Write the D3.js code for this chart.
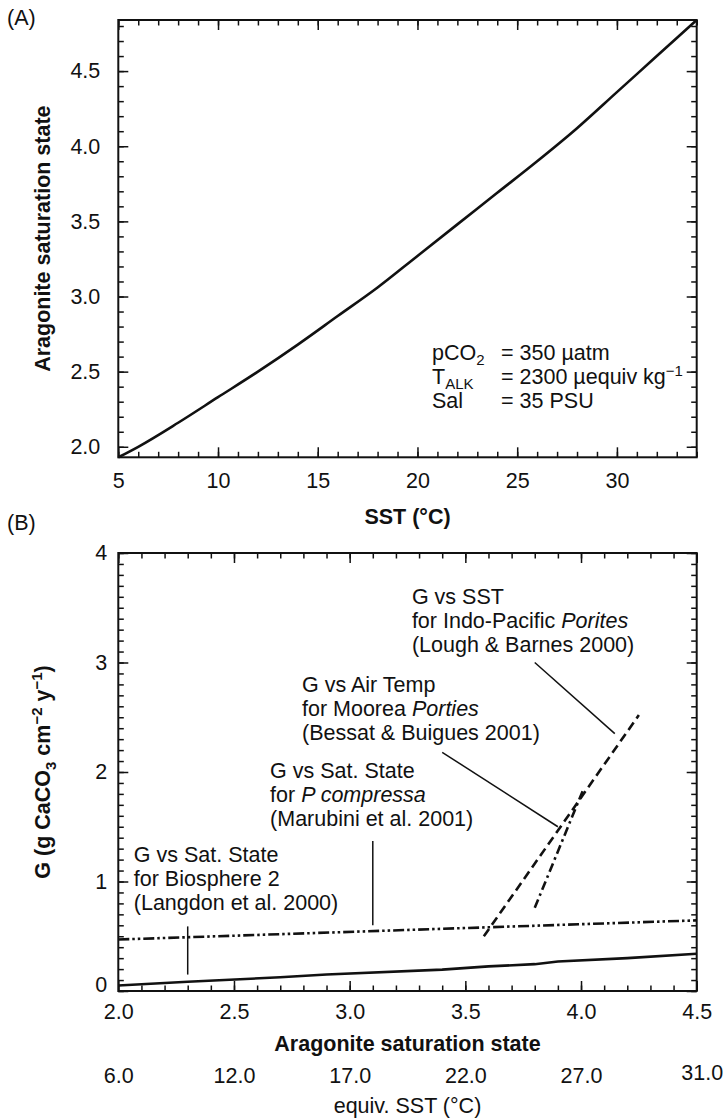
<!DOCTYPE html>
<html lang="en">
<head>
    <meta charset="UTF-8">
    <title>Aragonite saturation state and coral calcification</title>
    <script src="https://cdnjs.cloudflare.com/ajax/libs/d3/7.8.5/d3.min.js"></script>
    <style>
        body {
            margin: 0;
            padding: 0;
            background-color: white;
        }
        svg text {
            font-family: 'Liberation Sans', Arial, Helvetica, sans-serif;
            fill: #111;
        }
        .tick line {
            stroke: #111;
            stroke-width: 1.5px;
        }
    </style>
</head>
<body>
    <div id="chart"></div>

    <script>
        // Panel A: saturation state vs SST
        const sstA = [5, 6, 8, 10, 12, 14, 16, 18, 20, 22, 24, 26, 28, 30, 32, 34];
        const omegaA = [1.93, 2.0, 2.16, 2.33, 2.5, 2.68, 2.87, 3.06, 3.27, 3.48, 3.69, 3.9, 4.12, 4.36, 4.6, 4.84];
        const tickXA = [5, 10, 15, 20, 25, 30];
        const tickYA = [2.0, 2.5, 3.0, 3.5, 4.0, 4.5];

        // Panel B: calcification vs saturation state
        const langdonX = [2.0, 2.3, 2.7, 2.9, 3.4, 3.6, 3.8, 3.9, 4.2, 4.5];
        const langdonY = [0.05, 0.085, 0.125, 0.15, 0.195, 0.225, 0.245, 0.27, 0.3, 0.34];
        const marubiniX = [2.0, 4.5];
        const marubiniY = [0.47, 0.645];
        const loughX = [3.58, 4.25];
        const loughY = [0.5, 2.52];
        const bessatX = [3.8, 4.01];
        const bessatY = [0.76, 1.84];
        const tickXB = [2.0, 2.5, 3.0, 3.5, 4.0, 4.5];
        const tickYB = [0, 1, 2, 3, 4];
        const equivSST = ['6.0', '12.0', '17.0', '22.0', '27.0', '31.0'];

        // leader lines [x1, y1, x2, y2] in data units
        const leaders = [
            [2.3, 0.15, 2.3, 0.59],
            [3.1, 0.60, 3.1, 1.37],
            [3.40, 2.18, 3.90, 1.50],
            [3.80, 3.00, 4.146, 2.35]
        ];
        // note blocks: x, y of first baseline, lines (italic parts marked with *)
        const notes = [
            {x: 3.269, y: 3.534, lines: [['G vs SST'], ['for Indo-Pacific ', '*Porites'], ['(Lough & Barnes 2000)']]},
            {x: 2.794, y: 2.731, lines: [['G vs Air Temp'], ['for Moorea ', '*Porties'], ['(Bessat & Buigues 2001)']]},
            {x: 2.656, y: 1.945, lines: [['G vs Sat. State'], ['for ', '*P compressa'], ['(Marubini et al. 2001)']]},
            {x: 2.067, y: 1.178, lines: [['G vs Sat. State'], ['for Biosphere 2'], ['(Langdon et al. 2000)']]}
        ];

        const width = 725, height = 1120;
        const fs = 21.5;

        const svg = d3.select('#chart').append('svg')
            .attr('width', width)
            .attr('height', height);

        const xA = d3.scaleLinear().domain([5, 34]).range([118.3, 696.7]);
        const yA = d3.scaleLinear().domain([1.93, 4.84]).range([457.3, 20]);
        const xB = d3.scaleLinear().domain([2, 4.5]).range([118.3, 696.7]);
        const yB = d3.scaleLinear().domain([0, 4]).range([991, 553]);

        // draws the frame with inward ticks on all four sides
        function frame(x, y, major, minorX, minorY, fmtX, fmtY, padX, padY) {
            const g = svg.append('g');
            const [x0, x1] = x.range();
            const [y0, y1] = y.range();
            const sides = [
                [() => d3.axisBottom(x), `translate(0,${y0})`, minorX, major[0], fmtX, padX],
                [() => d3.axisTop(x), `translate(0,${y1})`, minorX, major[0], null, 0],
                [() => d3.axisLeft(y), `translate(${x0},0)`, minorY, major[1], fmtY, padY],
                [() => d3.axisRight(y), `translate(${x1},0)`, minorY, major[1], null, 0]
            ];
            sides.forEach(([mk, tr, minor, maj, fmt, pad]) => {
                g.append('g').attr('transform', tr)
                    .call(mk().tickValues(minor).tickSize(-5.5).tickFormat(''))
                    .call(a => a.select('.domain').remove());
                const ax = g.append('g').attr('transform', tr)
                    .call(mk().tickValues(maj).tickSize(-10).tickPadding(pad)
                        .tickFormat(fmt || (() => '')))
                    .call(a => a.select('.domain').remove());
                ax.selectAll('text').style('font-size', fs + 'px').attr('fill', '#111');
            });
            g.append('rect')
                .attr('x', x0).attr('y', y1)
                .attr('width', x1 - x0).attr('height', y0 - y1)
                .attr('fill', 'none').attr('stroke', '#111').attr('stroke-width', 2);
            return g;
        }

        // ---- Panel A ----
        const minorXA = d3.range(5, 34.01, 1);
        const minorYA = d3.range(2.0, 4.85, 0.1).map(v => +v.toFixed(1));
        frame(xA, yA, [tickXA, tickYA], minorXA, minorYA, d3.format('d'), d3.format('.1f'), 15, 18);

        svg.append('path')
            .datum(sstA.map((s, i) => [s, omegaA[i]]))
            .attr('d', d3.line().curve(d3.curveMonotoneX).x(d => xA(d[0])).y(d => yA(d[1])))
            .attr('fill', 'none').attr('stroke', '#111').attr('stroke-width', 2.6);

        svg.append('text').attr('x', 7).attr('y', 25).style('font-size', fs + 'px').text('(A)');

        svg.append('text')
            .attr('x', (xA.range()[0] + xA.range()[1]) / 2).attr('y', 524)
            .attr('text-anchor', 'middle').style('font-size', fs + 'px').style('font-weight', 'bold')
            .text('SST (\u00B0C)');

        svg.append('text')
            .attr('transform', `translate(50,${(yA.range()[0] + yA.range()[1]) / 2}) rotate(-90)`)
            .attr('text-anchor', 'middle').style('font-size', fs + 'px').style('font-weight', 'bold')
            .text('Aragonite saturation state');

        // chemistry note
        const noteA = svg.append('g').style('font-size', fs + 'px');
        const nxA = xA(20.73), neqA = xA(24.19);
        const nyA = [2.58, 2.42, 2.26].map(v => yA(v));
        let t = noteA.append('text').attr('x', nxA).attr('y', nyA[0]);
        t.append('tspan').text('pCO');
        t.append('tspan').attr('dy', 5).style('font-size', '15px').text('2');
        noteA.append('text').attr('x', neqA).attr('y', nyA[0]).text('= 350 \u00B5atm');
        t = noteA.append('text').attr('x', nxA).attr('y', nyA[1]);
        t.append('tspan').text('T');
        t.append('tspan').attr('dy', 5).style('font-size', '15px').text('ALK');
        t = noteA.append('text').attr('x', neqA).attr('y', nyA[1]);
        t.append('tspan').text('= 2300 \u00B5equiv kg');
        t.append('tspan').attr('dy', -8).style('font-size', '15px').text('\u22121');
        noteA.append('text').attr('x', nxA).attr('y', nyA[2]).text('Sal');
        noteA.append('text').attr('x', neqA).attr('y', nyA[2]).text('= 35 PSU');

        // ---- Panel B ----
        const minorXB = d3.range(2.0, 4.51, 0.1).map(v => +v.toFixed(1));
        const minorYB = d3.range(0, 4.01, 0.1).map(v => +v.toFixed(1));
        const fB = frame(xB, yB, [tickXB, tickYB], minorXB, minorYB, d3.format('.1f'), d3.format('d'), 13, 11);
        // lift the zero label off the corner
        fB.selectAll('text').filter(d => d === 0).attr('dy', '0.0em');

        // equivalent SST scale below the axis
        svg.append('g')
            .attr('transform', `translate(0,${yB.range()[0]})`)
            .call(d3.axisBottom(xB).tickValues(tickXB).tickSize(0).tickPadding(77)
                .tickFormat((d, i) => equivSST[i]))
            .call(a => a.select('.domain').remove())
            .selectAll('text').style('font-size', fs + 'px').attr('fill', '#111')
            .filter((d, i) => i === equivSST.length - 1)
            .attr('dx', 5).attr('dy', '0.55em');

        const lineB = d3.line().x(d => xB(d[0])).y(d => yB(d[1]));
        const series = [
            [langdonX, langdonY, null],
            [marubiniX, marubiniY, '11,3,2.5,3,2.5,3'],
            [loughX, loughY, '9,5'],
            [bessatX, bessatY, '9,4,2.5,4']
        ];
        series.forEach(([xs, ys, dash]) => {
            svg.append('path')
                .datum(xs.map((v, i) => [v, ys[i]]))
                .attr('d', lineB)
                .attr('fill', 'none').attr('stroke', '#111').attr('stroke-width', 2.6)
                .attr('stroke-dasharray', dash);
        });

        svg.append('g').selectAll('line').data(leaders).join('line')
            .attr('x1', d => xB(d[0])).attr('y1', d => yB(d[1]))
            .attr('x2', d => xB(d[2])).attr('y2', d => yB(d[3]))
            .attr('stroke', '#111').attr('stroke-width', 1.5);

        notes.forEach(n => {
            n.lines.forEach((parts, i) => {
                const tx = svg.append('text')
                    .attr('x', xB(n.x)).attr('y', yB(n.y) + i * 24)
                    .style('font-size', fs + 'px');
                parts.forEach(p => {
                    const it = p.startsWith('*');
                    tx.append('tspan').style('font-style', it ? 'italic' : 'normal')
                        .text(it ? p.slice(1) : p);
                });
            });
        });

        svg.append('text').attr('x', 7).attr('y', 530).style('font-size', fs + 'px').text('(B)');

        svg.append('text')
            .attr('x', (xB.range()[0] + xB.range()[1]) / 2).attr('y', 1051)
            .attr('text-anchor', 'middle').style('font-size', fs + 'px').style('font-weight', 'bold')
            .text('Aragonite saturation state');

        svg.append('text')
            .attr('x', (xB.range()[0] + xB.range()[1]) / 2).attr('y', 1113)
            .attr('text-anchor', 'middle').style('font-size', fs + 'px')
            .text('equiv. SST (\u00B0C)');

        const yt = svg.append('text')
            .attr('transform', `translate(50,${(yB.range()[0] + yB.range()[1]) / 2}) rotate(-90)`)
            .attr('text-anchor', 'middle').style('font-size', fs + 'px').style('font-weight', 'bold');
        yt.append('tspan').text('G (g CaCO');
        yt.append('tspan').attr('dy', 6).style('font-size', '15px').text('3');
        yt.append('tspan').attr('dy', -6).text(' cm');
        yt.append('tspan').attr('dy', -8).style('font-size', '15px').text('\u22122');
        yt.append('tspan').attr('dy', 8).text(' y');
        yt.append('tspan').attr('dy', -8).style('font-size', '15px').text('\u22121');
        yt.append('tspan').attr('dy', 8).text(')');
    </script>
</body>
</html>
